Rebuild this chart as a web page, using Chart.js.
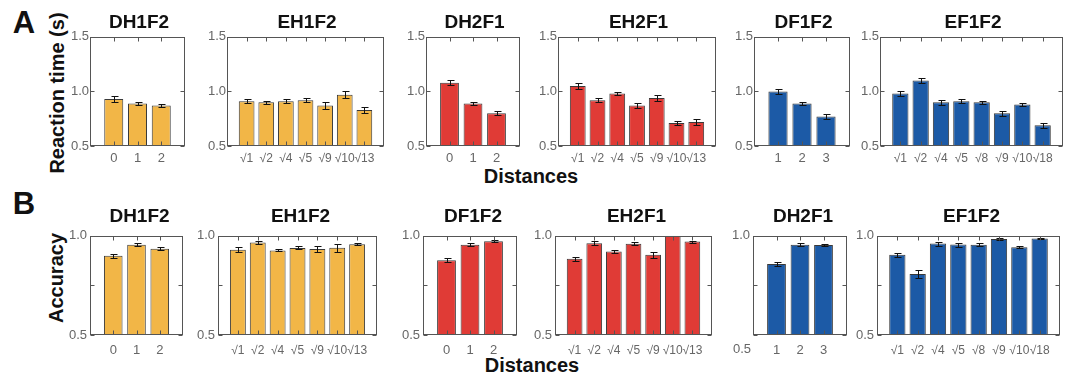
<!DOCTYPE html>
<html>
<head>
<meta charset="utf-8">
<script src="https://cdn.jsdelivr.net/npm/chart.js@4.4.0/dist/chart.umd.min.js"></script>
<style>
  body { margin: 0; background: #fff; font-family: "Liberation Sans", Arial, sans-serif; }
  #fig { position: relative; width: 1067px; height: 378px; overflow: hidden; }
  #fig canvas { position: absolute; }
  .t { position: absolute; font-weight: bold; color: #111; white-space: nowrap; line-height: 1; transform: translate(-50%, -50%); }
  .rot { transform: translate(-50%, -50%) rotate(-90deg); }
</style>
</head>
<body>
<div id="fig">
  <div class="t" style="left:24px;top:22px;font-size:31px;">A</div>
  <div class="t" style="left:24px;top:203px;font-size:31px;">B</div>
  <div class="t rot" style="left:57px;top:93px;font-size:20px;">Reaction time (s)</div>
  <div class="t rot" style="left:56px;top:278px;font-size:20px;">Accuracy</div>
  <div class="t" style="left:531px;top:176px;font-size:20px;">Distances</div>
  <div class="t" style="left:532px;top:365px;font-size:20px;">Distances</div>
</div>
<script>
// tick labels
var labelsDH = ['0', '1', '2'];
var labelsDF = ['1', '2', '3'];
var labelsEH = ['√1', '√2', '√4', '√5', '√9', '√10', '√13'];
var labelsEF = ['√1', '√2', '√4', '√5', '√8', '√9', '√10', '√18'];

// A: reaction time (s), mean and error
var rtDH1F2 = [0.93, 0.89, 0.87];
var rtDH1F2Err = [0.025, 0.015, 0.015];
var rtEH1F2 = [0.91, 0.90, 0.91, 0.92, 0.87, 0.97, 0.83];
var rtEH1F2Err = [0.02, 0.015, 0.02, 0.015, 0.03, 0.03, 0.03];
var rtDH2F1 = [1.08, 0.89, 0.80];
var rtDH2F1Err = [0.025, 0.015, 0.02];
var rtEH2F1 = [1.05, 0.92, 0.98, 0.87, 0.94, 0.71, 0.72];
var rtEH2F1Err = [0.025, 0.015, 0.015, 0.02, 0.025, 0.02, 0.03];
var rtDF1F2 = [1.00, 0.89, 0.77];
var rtDF1F2Err = [0.025, 0.015, 0.02];
var rtEF1F2 = [0.98, 1.10, 0.90, 0.91, 0.90, 0.80, 0.88, 0.69];
var rtEF1F2Err = [0.02, 0.02, 0.025, 0.02, 0.015, 0.025, 0.015, 0.025];

// B: accuracy, mean and error
var accDH1F2 = [0.90, 0.955, 0.935];
var accDH1F2Err = [0.01, 0.007, 0.007];
var accEH1F2 = [0.93, 0.966, 0.926, 0.939, 0.934, 0.94, 0.958];
var accEH1F2Err = [0.012, 0.007, 0.005, 0.008, 0.015, 0.02, 0.005];
var accDF1F2 = [0.877, 0.955, 0.973];
var accDF1F2Err = [0.01, 0.007, 0.005];
var accEH2F1 = [0.884, 0.963, 0.921, 0.96, 0.905, 1.0, 0.971];
var accEH2F1Err = [0.01, 0.01, 0.008, 0.007, 0.015, 0, 0.005];
var accDH2F1 = [0.858, 0.955, 0.953];
var accDH2F1Err = [0.01, 0.007, 0.005];
var accEF1F2 = [0.905, 0.807, 0.961, 0.956, 0.955, 0.984, 0.942, 0.987];
var accEF1F2Err = [0.01, 0.02, 0.01, 0.01, 0.008, 0.005, 0.006, 0.004];

var yellow = '#F2B647', red = '#E03B36', blue = '#1C5AA6';

// panel boxes [left, right] per row
var rowA = { top: 36, bottom: 146, yMin: 0.5, yMax: 1.5, step: 0.5, yPad: 1, xPad: 5, titleY: 21 };
var rowB = { top: 233, bottom: 335, yMin: 0.5, yMax: 1.0, step: 0.25, yPad: 3, xPad: 8, titleY: 215 };

var panels = [
  { row: rowA, box: [90, 188], title: 'DH1F2', labels: labelsDH, values: rtDH1F2, errs: rtDH1F2Err, color: yellow },
  { row: rowA, box: [227, 387], title: 'EH1F2', labels: labelsEH, values: rtEH1F2, errs: rtEH1F2Err, color: yellow },
  { row: rowA, box: [426, 523], title: 'DH2F1', labels: labelsDH, values: rtDH2F1, errs: rtDH2F1Err, color: red },
  { row: rowA, box: [558, 719], title: 'EH2F1', labels: labelsEH, values: rtEH2F1, errs: rtEH2F1Err, color: red },
  { row: rowA, box: [754, 853], title: 'DF1F2', labels: labelsDF, values: rtDF1F2, errs: rtDF1F2Err, color: blue },
  { row: rowA, box: [880, 1066], title: 'EF1F2', labels: labelsEF, values: rtEF1F2, errs: rtEF1F2Err, color: blue },
  { row: rowB, box: [90, 189], title: 'DH1F2', labels: labelsDH, values: accDH1F2, errs: accDH1F2Err, color: yellow },
  { row: rowB, box: [218, 383], title: 'EH1F2', labels: labelsEH, values: accEH1F2, errs: accEH1F2Err, color: yellow },
  { row: rowB, box: [423, 523], title: 'DF1F2', labels: labelsDH, values: accDF1F2, errs: accDF1F2Err, color: red },
  { row: rowB, box: [555, 718], title: 'EH2F1', labels: labelsEH, values: accEH2F1, errs: accEH2F1Err, color: red },
  { row: rowB, box: [753, 853], title: 'DH2F1', labels: labelsDF, values: accDH2F1, errs: accDH2F1Err, color: blue, dropLabel: true },
  { row: rowB, box: [877, 1066], title: 'EF1F2', labels: labelsEF, values: accEF1F2, errs: accEF1F2Err, color: blue }
];

var Y_W = 36, X_H = 26, PAD_T = 8, PAD_R = 2;

// error bars, box, inward ticks
var framePlugin = {
  id: 'frame',
  afterDatasetsDraw: function(chart) {
    var ctx = chart.ctx, a = chart.chartArea, x = chart.scales.x, y = chart.scales.y;
    var ds = chart.data.datasets[0];
    var meta = chart.getDatasetMeta(0);
    ctx.save();
    ctx.lineWidth = 1;
    ctx.strokeStyle = '#111';
    ctx.beginPath();
    meta.data.forEach(function(bar, i) {
      var v = ds.data[i].y, e = ds.errors[i];
      if (!e) return;
      var px = Math.round(bar.x) + 0.5;
      var y1 = Math.round(y.getPixelForValue(v + e)) + 0.5;
      var y2 = Math.round(y.getPixelForValue(v - e)) + 0.5;
      ctx.moveTo(px, y1); ctx.lineTo(px, y2);
      ctx.moveTo(px - 3, y1); ctx.lineTo(px + 4, y1);
      ctx.moveTo(px - 3, y2); ctx.lineTo(px + 4, y2);
    });
    ctx.stroke();

    var L = Math.round(a.left) + 0.5, R = Math.round(a.right) - 0.5;
    var T = Math.round(a.top) + 0.5, B = Math.round(a.bottom) - 0.5;
    ctx.strokeStyle = '#555';
    ctx.strokeRect(L, T, R - L, B - T);
    ctx.beginPath();
    y.ticks.forEach(function(t) {
      var py = Math.round(y.getPixelForValue(t.value)) + 0.5;
      ctx.moveTo(L, py); ctx.lineTo(L + 4, py);
      ctx.moveTo(R, py); ctx.lineTo(R - 4, py);
    });
    ds.data.forEach(function(d) {
      var px = Math.round(x.getPixelForValue(d.x)) + 0.5;
      ctx.moveTo(px, T); ctx.lineTo(px, T + 4);
      ctx.moveTo(px, B); ctx.lineTo(px, B - 4);
    });
    ctx.stroke();

    if (chart.options.plugins.frame && chart.options.plugins.frame.dropLabel) {
      // the 0.5 label sits down at the x-label line in this panel
      ctx.fillStyle = '#666';
      ctx.font = '13px "Liberation Sans", Arial, sans-serif';
      ctx.textAlign = 'right';
      ctx.textBaseline = 'middle';
      ctx.fillText(y.min.toFixed(1), a.left - 2, a.bottom + 14);
    }
    ctx.restore();
  }
};

var fig = document.getElementById('fig');

panels.forEach(function(p) {
  var row = p.row;
  var boxW = p.box[1] - p.box[0], boxH = row.bottom - row.top;
  var cv = document.createElement('canvas');
  cv.width = boxW + Y_W + PAD_R;
  cv.height = boxH + PAD_T + X_H;
  cv.style.left = (p.box[0] - Y_W) + 'px';
  cv.style.top = (row.top - PAD_T) + 'px';
  fig.appendChild(cv);

  var ttl = document.createElement('div');
  ttl.className = 't';
  ttl.style.fontSize = '19px';
  ttl.style.left = (p.box[0] + boxW / 2) + 'px';
  ttl.style.top = row.titleY + 'px';
  ttl.textContent = p.title;
  fig.appendChild(ttl);

  var n = p.labels.length;
  var pts = p.values.map(function(v, i) { return { x: i + 1, y: v }; });
  var sqrtLabels = p.labels[0].indexOf('√') === 0;

  new Chart(cv, {
    type: 'bar',
    data: {
      datasets: [{
        data: pts,
        errors: p.errs,
        backgroundColor: p.color,
        borderColor: '#3a3a3a',
        borderWidth: 1,
        borderSkipped: false,
        barPercentage: 0.8,
        categoryPercentage: 1.0
      }]
    },
    options: {
      responsive: false,
      animation: false,
      layout: { padding: { top: PAD_T, right: PAD_R, left: 0, bottom: 0 } },
      plugins: {
        legend: { display: false },
        tooltip: { enabled: false },
        frame: { dropLabel: !!p.dropLabel }
      },
      scales: {
        x: {
          type: 'linear',
          offset: false,
          min: 0,
          max: n + 1,
          grid: { display: false, drawTicks: false },
          border: { display: false },
          afterFit: function(s) { s.height = X_H; },
          ticks: {
            stepSize: 1,
            autoSkip: false,
            maxRotation: 0,
            minRotation: 0,
            padding: row.xPad,
            color: '#666',
            font: { family: '"Liberation Sans", Arial, sans-serif', size: sqrtLabels ? 12 : 13 },
            callback: function(v) {
              var i = Math.round(v);
              return (Math.abs(v - i) < 1e-6 && i >= 1 && i <= n) ? p.labels[i - 1] : '';
            }
          }
        },
        y: {
          min: row.yMin,
          max: row.yMax,
          grid: { display: false, drawTicks: false },
          border: { display: false },
          afterFit: function(s) { s.width = Y_W; },
          ticks: {
            stepSize: row.step,
            padding: row.yPad,
            color: '#666',
            font: { family: '"Liberation Sans", Arial, sans-serif', size: 13 },
            callback: function(v) {
              if (row === rowB && Math.abs(v - 0.75) < 1e-6) return '';
              if (p.dropLabel && Math.abs(v - row.yMin) < 1e-6) return '';
              return v.toFixed(1);
            }
          }
        }
      }
    },
    plugins: [framePlugin]
  });
});
</script>
</body>
</html>
